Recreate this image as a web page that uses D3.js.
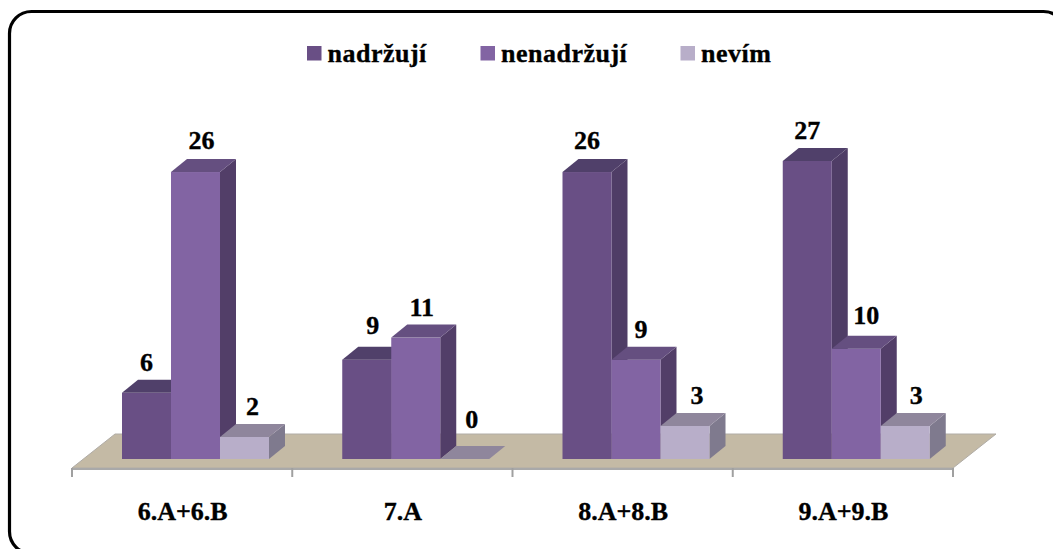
<!DOCTYPE html>
<html>
<head>
<meta charset="utf-8">
<script src="https://cdn.jsdelivr.net/npm/d3@7/dist/d3.min.js"></script>
<style>
html,body{margin:0;padding:0;background:#fff;overflow:hidden}
svg{display:block}
text{font-family:"Liberation Serif",serif;font-weight:bold;fill:#000;stroke:#000;stroke-width:0.35px}
</style>
</head>
<body>
<svg id="chart" width="1053" height="549"></svg>
<script>
const categories = ["6.A+6.B", "7.A", "8.A+8.B", "9.A+9.B"];
const seriesNames = ["nadržují", "nenadržují", "nevím"];
const nadrzuji = [6, 9, 26, 27];
const nenadrzuji = [26, 11, 9, 10];
const nevim = [2, 0, 3, 3];
const seriesValues = [nadrzuji, nenadrzuji, nevim];

// Face shades per series: front, side, top
const shades = [
  {front: "#694f85", side: "#4f3d66", top: "#50406a"},
  {front: "#8264a3", side: "#523e68", top: "#654f80"},
  {front: "#b8aec9", side: "#7f7a8e", top: "#8f869c"}
];

const svg = d3.select("#chart");

// Rounded frame; its right and bottom sides run off the canvas
svg.append("rect")
  .attr("x", 9.5).attr("y", 11.5).attr("width", 1056).attr("height", 542)
  .attr("rx", 22).attr("ry", 22)
  .attr("fill", "#fff").attr("stroke", "#000").attr("stroke-width", 3.2);

const baseY = 459;
const depthX = 16, depthY = 13;
const floorFront = 468, floorBack = 434;

const x0 = d3.scaleBand().domain(categories).range([72, 953]).paddingInner(0).paddingOuter(0);
const x1 = d3.scaleBand().domain(d3.range(3)).range([50, 197]);
const y = d3.scaleLinear().domain([0, 27]).range([baseY, 161]);

// Floor plane
const floorSkew = 43;
svg.append("polygon")
  .attr("points", [[72, floorFront], [953, floorFront], [953 + floorSkew, floorBack], [72 + floorSkew, floorBack]].join(" "))
  .attr("fill", "#c4baa5").attr("stroke", "#b0aca6").attr("stroke-width", 1);
svg.append("line")
  .attr("x1", 72).attr("x2", 953).attr("y1", floorFront + 1).attr("y2", floorFront + 1)
  .attr("stroke", "#a9a9a9").attr("stroke-width", 2);

// Category ticks along the front edge
const edges = categories.map(c => x0(c)).concat(953);
svg.selectAll("line.tick").data(edges).join("line").attr("class", "tick")
  .attr("x1", d => d).attr("x2", d => d).attr("y1", floorFront).attr("y2", 477)
  .attr("stroke", "#a0a0a0").attr("stroke-width", 2);

// Bars, painted left to right so later fronts cover earlier sides
const bars = [];
categories.forEach((c, ci) => seriesValues.forEach((vals, si) => bars.push({c, si, v: vals[ci]})));

const g = svg.append("g");
bars.forEach(b => {
  const xl = x0(b.c) + x1(b.si), w = x1.bandwidth(), top = y(b.v), s = shades[b.si];
  const pts = a => a.map(p => p.join(",")).join(" ");
  if (b.v > 0) {
    g.append("polygon").attr("fill", s.side)
      .attr("points", pts([[xl + w, top], [xl + w + depthX, top - depthY], [xl + w + depthX, baseY - depthY], [xl + w, baseY]]));
    g.append("rect").attr("x", xl).attr("y", top).attr("width", w).attr("height", baseY - top).attr("fill", s.front);
  }
  g.append("polygon").attr("fill", s.top)
    .attr("points", pts([[xl, top], [xl + depthX, top - depthY], [xl + w + depthX, top - depthY], [xl + w, top]]));
});

// Value labels above each bar; small per-bar shifts keep them clear of neighbours
const labelShift = [0, 6, 8, 6, 6, 7, 0, 5, 12, 0, 10, 11];
const labelLift = [9, 10, 9, 13, 9, 18, 10, 9, 9, 9, 12, 9];
svg.selectAll("text.val").data(bars).join("text").attr("class", "val")
  .attr("x", (b, i) => x0(b.c) + x1(b.si) + x1.bandwidth() / 2 + labelShift[i])
  .attr("y", (b, i) => y(b.v) - depthY - labelLift[i])
  .attr("text-anchor", "middle").attr("font-size", 26)
  .text(b => b.v);

// Category labels
svg.selectAll("text.cat").data(categories).join("text").attr("class", "cat")
  .attr("x", c => x0(c) + x0.bandwidth() / 2 + 0.5)
  .attr("y", 520)
  .attr("text-anchor", "middle").attr("font-size", 26)
  .text(c => c);

// Legend
const legendX = d3.scaleOrdinal().domain(seriesNames).range([307, 480.5, 680.5]);
const legend = svg.selectAll("g.leg").data(seriesNames).join("g").attr("class", "leg")
  .attr("transform", d => `translate(${legendX(d)},0)`);
legend.append("rect").attr("y", 46).attr("width", 14.5).attr("height", 14.5)
  .attr("fill", (d, i) => shades[i].front);
legend.append("text").attr("x", 20.5).attr("y", 62)
  .attr("font-size", 26).attr("letter-spacing", 0.5).text(d => d);
</script>
</body>
</html>
